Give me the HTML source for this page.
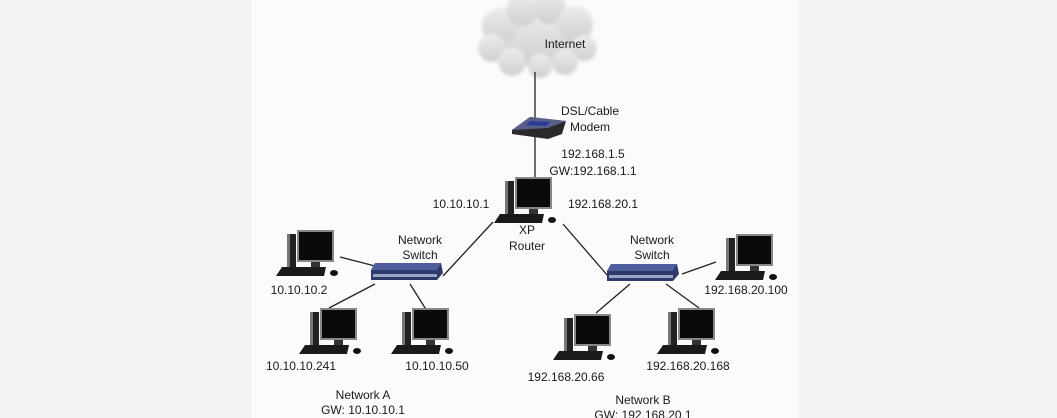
<!DOCTYPE html>
<html><head><meta charset="utf-8"><style>
html,body{margin:0;padding:0;background:#f3f3f3;}
svg{display:block}
text{font-family:"Liberation Sans",sans-serif;font-size:12px;fill:#1a1a1a;}
</style></head><body>
<svg width="1057" height="418" viewBox="0 0 1057 418" xmlns="http://www.w3.org/2000/svg">
<defs>
<linearGradient id="cl" x1="0" y1="0" x2="0" y2="1"><stop offset="0" stop-color="#ececec"/><stop offset="1" stop-color="#cfcfcf"/></linearGradient>
<filter id="bl"><feGaussianBlur stdDeviation="1.5"/></filter>
<g id="pc">
  <rect x="11" y="4" width="9" height="35" fill="#222"/>
  <rect x="11" y="4" width="3" height="35" fill="#777"/>
  <rect x="21" y="0" width="37" height="32" fill="#888"/>
  <rect x="23" y="2" width="33" height="28" fill="#0a0a0a"/>
  <rect x="35" y="32" width="9" height="5" fill="#333"/>
  <polygon points="6,37 50,37 48,46 0,46" fill="#1a1a1a"/>
  <ellipse cx="58" cy="43" rx="4" ry="3" fill="#111"/>
</g>
<g id="sw">
  <polygon points="4,0 70,0 72,10 66,17 0,17 0,7" fill="#2e3a6a"/>
  <polygon points="4,0 70,0 66,7 0,7" fill="#4e5d9c"/>
  <rect x="2" y="11" width="64" height="3" fill="#9aa3c8"/>
</g>
</defs>
<rect x="251" y="0" width="548" height="418" fill="#fbfbfb"/>
<!-- cloud -->
<g fill="url(#cl)" filter="url(#bl)">
<ellipse cx="536" cy="38" rx="52" ry="28"/>
<circle cx="500" cy="26" r="18"/><circle cx="522" cy="10" r="16"/><circle cx="550" cy="8" r="16"/><circle cx="575" cy="24" r="18"/>
<circle cx="492" cy="48" r="14"/><circle cx="584" cy="48" r="13"/><circle cx="512" cy="62" r="14"/><circle cx="540" cy="66" r="12"/><circle cx="565" cy="62" r="13"/>
</g>
<text x="565" y="48" text-anchor="middle">Internet</text>
<!-- lines -->
<g stroke="#222" stroke-width="1.3" fill="none">
<line x1="535" y1="72" x2="535" y2="119"/>
<line x1="535" y1="137" x2="535" y2="180"/>
<line x1="493" y1="222" x2="443" y2="276"/>
<line x1="563" y1="224" x2="608" y2="276"/>
<line x1="340" y1="257" x2="375" y2="266"/>
<line x1="375" y1="284" x2="329" y2="308"/>
<line x1="410" y1="284" x2="427" y2="311"/>
<line x1="630" y1="284" x2="596" y2="313"/>
<line x1="666" y1="284" x2="699" y2="308"/>
<line x1="682" y1="274" x2="716" y2="262"/>
</g>
<!-- modem -->
<polygon points="512,130 530,117 566,121 562,134 548,139 512,134" fill="#2a2a2a"/>
<polygon points="512,130 530,117 566,121 548,128" fill="#5a5f8a"/>
<polygon points="530,121 550,122 546,126 526,125" fill="#2b3a9a"/>
<text x="590" y="115" text-anchor="middle">DSL/Cable</text>
<text x="590" y="131" text-anchor="middle">Modem</text>
<text x="593" y="158" text-anchor="middle">192.168.1.5</text>
<text x="593" y="175" text-anchor="middle">GW:192.168.1.1</text>
<!-- router -->
<use href="#pc" x="494" y="177"/>
<text x="461" y="208" text-anchor="middle">10.10.10.1</text>
<text x="603" y="208" text-anchor="middle">192.168.20.1</text>
<text x="527" y="234" text-anchor="middle">XP</text>
<text x="527" y="250" text-anchor="middle">Router</text>
<!-- switches -->
<use href="#sw" x="371" y="263"/>
<use href="#sw" x="607" y="264"/>
<text x="420" y="244" text-anchor="middle">Network</text>
<text x="420" y="259" text-anchor="middle">Switch</text>
<text x="652" y="244" text-anchor="middle">Network</text>
<text x="652" y="259" text-anchor="middle">Switch</text>
<!-- pcs -->
<use href="#pc" x="276" y="230"/>
<use href="#pc" x="299" y="308"/>
<use href="#pc" x="391" y="308"/>
<use href="#pc" x="553" y="314"/>
<use href="#pc" x="657" y="308"/>
<use href="#pc" x="715" y="234"/>
<text x="299" y="294" text-anchor="middle">10.10.10.2</text>
<text x="301" y="370" text-anchor="middle">10.10.10.241</text>
<text x="437" y="370" text-anchor="middle">10.10.10.50</text>
<text x="566" y="381" text-anchor="middle">192.168.20.66</text>
<text x="688" y="370" text-anchor="middle">192.168.20.168</text>
<text x="746" y="294" text-anchor="middle">192.168.20.100</text>
<text x="363" y="399" text-anchor="middle">Network A</text>
<text x="363" y="414" text-anchor="middle">GW: 10.10.10.1</text>
<text x="643" y="404" text-anchor="middle">Network B</text>
<text x="643" y="419" text-anchor="middle">GW: 192.168.20.1</text>
</svg>
</body></html>
